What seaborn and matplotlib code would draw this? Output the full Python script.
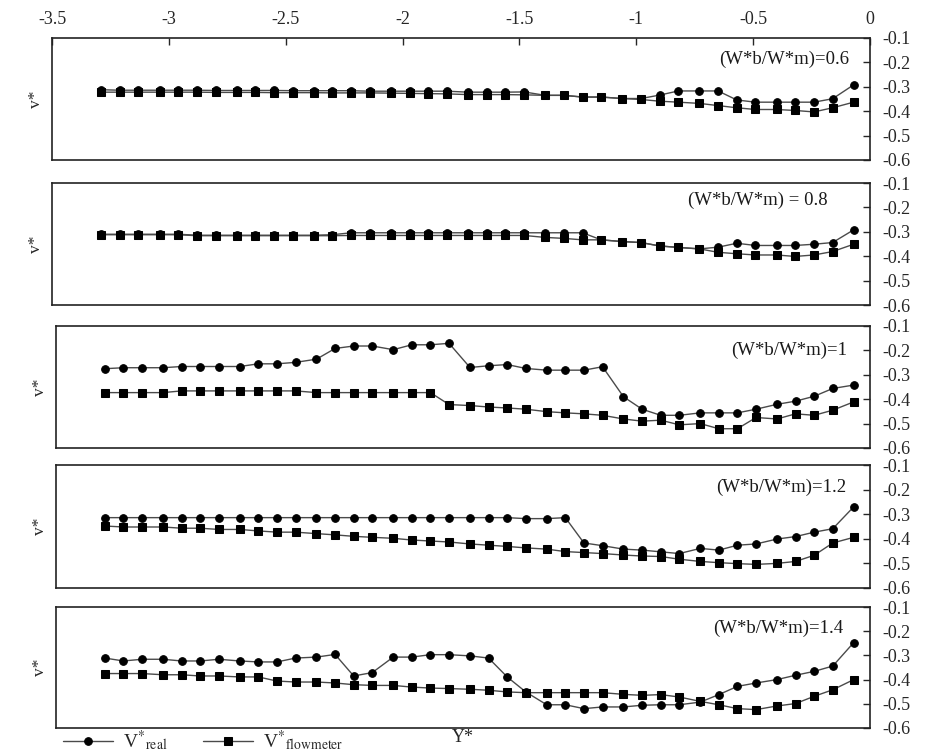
import numpy as np
import pandas as pd
import matplotlib
matplotlib.use("Agg")
import matplotlib.pyplot as plt
import seaborn as sns

# ===============================
# Data
# ===============================

y_star = [-3.29, -3.21, -3.13, -3.04, -2.96, -2.88, -2.80, -2.71, -2.63, -2.55,
          -2.47, -2.38, -2.30, -2.22, -2.14, -2.05, -1.97, -1.89, -1.81, -1.72,
          -1.64, -1.56, -1.48, -1.39, -1.31, -1.23, -1.15, -1.06, -0.98, -0.90,
          -0.82, -0.73, -0.65, -0.57, -0.49, -0.40, -0.32, -0.24, -0.16, -0.07]

ratios = ["0.6", "0.8", "1", "1.2", "1.4"]
ratio_labels = ["(W*b/W*m)=0.6", "(W*b/W*m) = 0.8", "(W*b/W*m)=1",
                "(W*b/W*m)=1.2", "(W*b/W*m)=1.4"]

real_06 = [-0.312, -0.314, -0.314, -0.314, -0.314, -0.314, -0.315, -0.315, -0.315, -0.315,
           -0.316, -0.316, -0.316, -0.316, -0.318, -0.318, -0.318, -0.318, -0.318, -0.322,
           -0.322, -0.322, -0.321, -0.335, -0.335, -0.342, -0.342, -0.348, -0.348, -0.334,
           -0.317, -0.317, -0.317, -0.354, -0.363, -0.363, -0.363, -0.363, -0.349, -0.292]
flow_06 = [-0.322, -0.322, -0.322, -0.322, -0.322, -0.322, -0.323, -0.323, -0.323, -0.324,
           -0.324, -0.324, -0.325, -0.325, -0.325, -0.326, -0.327, -0.328, -0.329, -0.332,
           -0.332, -0.332, -0.333, -0.335, -0.335, -0.342, -0.342, -0.348, -0.352, -0.359,
           -0.363, -0.368, -0.377, -0.386, -0.393, -0.393, -0.397, -0.403, -0.386, -0.363]

real_08 = [-0.310, -0.310, -0.310, -0.310, -0.310, -0.314, -0.314, -0.314, -0.314, -0.314,
           -0.314, -0.314, -0.312, -0.304, -0.304, -0.304, -0.304, -0.304, -0.304, -0.304,
           -0.304, -0.304, -0.304, -0.304, -0.304, -0.304, -0.333, -0.340, -0.344, -0.358,
           -0.364, -0.370, -0.363, -0.347, -0.356, -0.356, -0.356, -0.351, -0.344, -0.292]
flow_08 = [-0.312, -0.312, -0.312, -0.312, -0.312, -0.316, -0.316, -0.316, -0.316, -0.316,
           -0.316, -0.316, -0.316, -0.315, -0.315, -0.315, -0.315, -0.315, -0.315, -0.315,
           -0.315, -0.315, -0.315, -0.323, -0.327, -0.333, -0.333, -0.340, -0.344, -0.358,
           -0.364, -0.370, -0.384, -0.390, -0.395, -0.395, -0.401, -0.395, -0.381, -0.351]

real_10 = [-0.275, -0.271, -0.271, -0.271, -0.266, -0.266, -0.266, -0.266, -0.255, -0.255,
           -0.249, -0.236, -0.192, -0.182, -0.182, -0.197, -0.177, -0.177, -0.171, -0.270,
           -0.263, -0.258, -0.274, -0.281, -0.281, -0.281, -0.267, -0.390, -0.441, -0.466,
           -0.466, -0.456, -0.456, -0.456, -0.441, -0.421, -0.408, -0.388, -0.356, -0.342]
flow_10 = [-0.373, -0.373, -0.373, -0.373, -0.366, -0.366, -0.366, -0.366, -0.366, -0.366,
           -0.366, -0.373, -0.373, -0.373, -0.373, -0.373, -0.373, -0.373, -0.422, -0.426,
           -0.432, -0.436, -0.441, -0.451, -0.456, -0.460, -0.466, -0.481, -0.490, -0.486,
           -0.505, -0.500, -0.521, -0.521, -0.475, -0.481, -0.460, -0.466, -0.445, -0.411]

real_12 = [-0.314, -0.314, -0.314, -0.314, -0.314, -0.314, -0.314, -0.314, -0.314, -0.314,
           -0.314, -0.314, -0.314, -0.314, -0.314, -0.314, -0.314, -0.314, -0.314, -0.314,
           -0.314, -0.314, -0.318, -0.318, -0.314, -0.417, -0.428, -0.442, -0.446, -0.453,
           -0.460, -0.439, -0.446, -0.426, -0.421, -0.401, -0.391, -0.373, -0.359, -0.270]
flow_12 = [-0.348, -0.352, -0.352, -0.352, -0.357, -0.357, -0.362, -0.362, -0.368, -0.373,
           -0.373, -0.379, -0.384, -0.390, -0.394, -0.398, -0.405, -0.409, -0.413, -0.421,
           -0.426, -0.431, -0.437, -0.442, -0.452, -0.456, -0.460, -0.466, -0.470, -0.472,
           -0.483, -0.492, -0.497, -0.501, -0.504, -0.500, -0.492, -0.467, -0.417, -0.394]

real_14 = [-0.311, -0.323, -0.316, -0.316, -0.323, -0.323, -0.316, -0.323, -0.327, -0.327,
           -0.311, -0.307, -0.296, -0.385, -0.371, -0.307, -0.307, -0.297, -0.297, -0.302,
           -0.311, -0.389, -0.451, -0.504, -0.504, -0.520, -0.513, -0.513, -0.506, -0.504,
           -0.504, -0.493, -0.462, -0.428, -0.414, -0.400, -0.382, -0.366, -0.344, -0.247]
flow_14 = [-0.375, -0.375, -0.375, -0.380, -0.380, -0.385, -0.385, -0.389, -0.389, -0.406,
           -0.410, -0.410, -0.414, -0.421, -0.424, -0.424, -0.431, -0.435, -0.437, -0.440,
           -0.444, -0.451, -0.454, -0.454, -0.454, -0.454, -0.454, -0.461, -0.465, -0.462,
           -0.472, -0.490, -0.504, -0.520, -0.524, -0.509, -0.499, -0.469, -0.442, -0.400]

real_all = [real_06, real_08, real_10, real_12, real_14]
flow_all = [flow_06, flow_08, flow_10, flow_12, flow_14]

x_ticks = [-3.5, -3, -2.5, -2, -1.5, -1, -0.5, 0]
x_tick_labels = ["-3.5", "-3", "-2.5", "-2", "-1.5", "-1", "-0.5", "0"]
y_ticks = [-0.6, -0.5, -0.4, -0.3, -0.2, -0.1]
y_tick_labels = ["-0.6", "-0.5", "-0.4", "-0.3", "-0.2", "-0.1"]

# ===============================
# Style
# ===============================

sns.set_style("white")
plt.rcParams["font.family"] = ["Liberation Serif", "DejaVu Serif"]
plt.rcParams["mathtext.fontset"] = "stix"

# panel boxes in pixels: left, top, bottom (right edge shared)
W, H = 927, 752
boxes = [(52, 38, 160), (52, 183, 305), (56, 326, 448), (56, 465, 588), (56, 607, 728)]
right_px = 870
label_pos = [(-0.09, -0.187), (-0.18, -0.17), (-0.10, -0.20), (-0.10, -0.192), (-0.115, -0.188)]

fig = plt.figure(figsize=(W / 100, H / 100), dpi=100)

axes = []
for k in range(5):
    left, top, bottom = boxes[k]
    ax = fig.add_axes([left / W, 1 - bottom / H, (right_px - left) / W, (bottom - top) / H])

    df = pd.DataFrame({"Y*": y_star, "real": real_all[k], "flow": flow_all[k]})

    sns.lineplot(data=df, x="Y*", y="real", ax=ax, color="#4a4a4a", linewidth=1.0,
                 marker="o", markersize=5.5, markerfacecolor="black",
                 markeredgecolor="black", label=None)
    sns.lineplot(data=df, x="Y*", y="flow", ax=ax, color="#4a4a4a", linewidth=1.0,
                 marker="s", markersize=5.5, markerfacecolor="black",
                 markeredgecolor="black", label=None)

    ax.set_xlim(-3.5, 0)
    ax.set_ylim(-0.6, -0.1)

    for side in ["top", "bottom", "left", "right"]:
        ax.spines[side].set_visible(True)
        ax.spines[side].set_color("#222222")
        ax.spines[side].set_linewidth(1.2)

    # y ticks on the right, label on the left
    ax.yaxis.tick_right()
    ax.yaxis.set_label_position("left")
    ax.set_yticks(y_ticks)
    ax.set_yticklabels(y_tick_labels)
    ax.tick_params(axis="y", direction="in", length=5, width=1, pad=9,
                   labelsize=13, right=True, left=False)
    ax.set_ylabel("v*", fontsize=12.5, labelpad=6)

    if k == 0:
        ax.xaxis.tick_top()
        ax.set_xticks(x_ticks)
        ax.set_xticklabels(x_tick_labels)
        ax.tick_params(axis="x", direction="in", length=5, width=1, pad=7,
                       labelsize=13, top=True, bottom=False)
    else:
        ax.set_xticks([])

    if k == 4:
        ax.set_xlabel("Y*", fontsize=13, labelpad=1)
    else:
        ax.set_xlabel("")

    ax.text(label_pos[k][0], label_pos[k][1], ratio_labels[k], ha="right",
            va="center", fontsize=13.5, color="#1a1a1a")

    if ax.get_legend() is not None:
        ax.get_legend().remove()

    axes.append(ax)

# ===============================
# Legend (bottom)
# ===============================

handles = axes[4].get_lines()[:2]
fig.legend(handles, [r"V$^{*}$$_{\mathrm{real}}$", r"V$^{*}$$_{\mathrm{flowmeter}}$"],
           loc="center left", bbox_to_anchor=(55 / W, 1 - 741 / H), ncol=2,
           frameon=False, fontsize=14, handlelength=2.6, handletextpad=0.5,
           columnspacing=1.8, borderaxespad=0)

fig.savefig("out.png", dpi=100)
